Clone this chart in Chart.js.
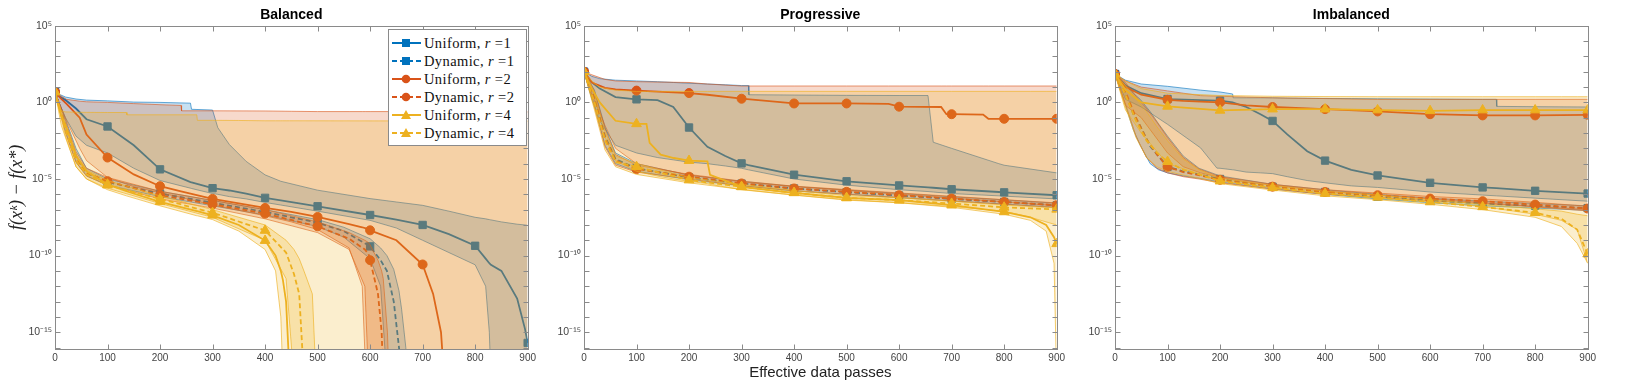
<!DOCTYPE html>
<html>
<head>
<meta charset="utf-8">
<script src="https://cdn.jsdelivr.net/npm/chart.js@4.4.1/dist/chart.umd.min.js"></script>
<style>
  body { margin: 0; background: #fff; width: 1644px; height: 386px; position: relative; overflow: hidden; }
  .panel { position: absolute; top: 0; width: 538px; height: 386px; }
  #legend {
    position: absolute; left: 388px; top: 29px; width: 134px; height: 111px;
    background: #fff; border: 1px solid #8a8a8a; padding: 4px 0 0 3px;
    font-family: 'Liberation Serif', 'Times New Roman', serif; font-size: 14.5px; letter-spacing: 0.4px; color: #111;
  }
  #legend .row { height: 18px; display: flex; align-items: center; white-space: nowrap; }
  #legend svg { margin-right: 3px; flex: none; }
</style>
</head>
<body>
<div class="panel" style="left:1px"><canvas id="balanced" width="538" height="386"></canvas></div>
<div class="panel" style="left:530px"><canvas id="progressive" width="538" height="386"></canvas></div>
<div class="panel" style="left:1061px"><canvas id="imbalanced" width="538" height="386"></canvas></div>
<div id="legend"></div>
<script>
// series meta
const seriesKinds = ['Uniform', 'Dynamic', 'Uniform', 'Dynamic', 'Uniform', 'Dynamic'];
const seriesR = [1, 1, 2, 2, 4, 4];
const seriesColors = ['#0072BD', '#0072BD', '#D95319', '#D95319', '#EDB120', '#EDB120'];
const seriesFills = ['rgba(0,114,189,0.22)', 'rgba(0,114,189,0.22)', 'rgba(217,83,25,0.22)', 'rgba(217,83,25,0.22)', 'rgba(237,177,32,0.22)', 'rgba(237,177,32,0.22)'];
const seriesEdges = ['rgba(0,114,189,0.75)', 'rgba(0,114,189,0.75)', 'rgba(217,83,25,0.75)', 'rgba(217,83,25,0.75)', 'rgba(237,177,32,0.8)', 'rgba(237,177,32,0.8)'];
const seriesDashed = [false, true, false, true, false, true];
const seriesMarkers = ['rect', 'rect', 'circle', 'circle', 'triangle', 'triangle'];

const passTicks = [0, 100, 200, 300, 400, 500, 600, 700, 800, 900];
const yTickValues = [1e-15, 1e-10, 1e-5, 1, 1e5];
const yTickLabels = ['10⁻¹⁵', '10⁻¹⁰', '10⁻⁵', '10⁰', '10⁵'];
const yDecadeTicks = [1e5, 1e4, 1e3, 1e2, 1e1, 1, 1e-1, 1e-2, 1e-3, 1e-4, 1e-5, 1e-6, 1e-7, 1e-8, 1e-9,
  1e-10, 1e-11, 1e-12, 1e-13, 1e-14, 1e-15, 1e-16];

// rows: [effective data passes, log10 median, log10 lower, log10 upper]
const balancedUniform1 = [
  [0, .68, .68, .68], [10, .35, -.2, .5], [20, .15, -1.0, .35], [40, -.4, -2.2, .22], [60, -1.1, -2.8, .15],
  [100, -1.57, -3.3, .1], [150, -2.8, -4.3, .02], [200, -4.37, -5.1, 0], [258, -5.2, -5.6, -.05],
  [260, -5.22, -5.62, -.45], [300, -5.6, -5.95, -.5], [310, -5.65, -6.0, -1.65], [332, -5.75, -6.15, -2.75],
  [364, -5.95, -6.3, -3.85], [400, -6.23, -6.53, -4.73], [430, -6.4, -6.7, -5.15], [500, -6.78, -7.1, -5.73],
  [600, -7.35, -7.7, -6.28], [650, -7.65, -8.2, -6.5], [700, -8.0, -9.0, -6.72], [750, -8.6, -9.8, -7.1],
  [800, -9.36, -10.6, -7.5], [820, -10.2, -12, -7.6], [827, -10.5, -15, -7.65], [830, -10.6, -18, -7.67],
  [850, -11.0, -18, -7.8], [880, -12.8, -18, -7.95], [895, -14.8, -18, -8.0], [900, -15.7, -18, -8.03]
];
const balancedDynamic1 = [
  [0, .68, .68, .68], [20, -1.5, -1.9, -1.1], [40, -3.5, -3.9, -3.0], [60, -4.6, -4.8, -4.3],
  [100, -5.2, -5.4, -5.0], [200, -5.95, -6.15, -5.8], [300, -6.55, -6.75, -6.4], [400, -7.15, -7.35, -7.0],
  [500, -7.85, -8.1, -7.65], [550, -8.4, -8.8, -8.15], [600, -9.4, -10.2, -8.9], [620, -10.3, -12, -9.5],
  [632, -11.0, -18, -10.0], [645, -13.0, -18, -10.9], [655, -16, -18, -12.3], [660, -18, -18, -13.5],
  [668, -18, -18, -16], [672, -18, -18, -18]
];
const balancedUniform2 = [
  [0, .68, .68, .68], [10, .3, -.2, .45], [22, -.1, -1.2, .2], [47, -1.0, -3.0, .08], [60, -2.1, -3.8, .04],
  [100, -3.6, -4.9, 0], [150, -4.7, -5.5, -.08], [200, -5.47, -5.9, -.15], [240, -5.8, -6.2, -.2],
  [241, -5.8, -6.2, -.55], [300, -6.3, -6.7, -.55], [400, -6.89, -7.4, -.56], [450, -7.15, -7.8, -.58],
  [500, -7.48, -8.3, -.6], [560, -7.95, -9.5, -.6], [585, -8.15, -12, -.6], [592, -8.22, -18, -.6],
  [600, -8.35, -18, -.6], [650, -9.0, -18, -.6], [700, -10.58, -18, -.6], [720, -12.5, -18, -.6],
  [735, -15, -18, -.6], [741, -18, -18, -.6], [900, -18, -18, -.62]
];
const balancedDynamic2 = [
  [0, .68, .68, .68], [20, -1.6, -2.0, -1.2], [40, -3.6, -3.9, -3.2], [60, -4.6, -4.8, -4.3],
  [100, -5.14, -5.4, -4.9], [200, -6.06, -6.3, -5.8], [300, -6.65, -6.9, -6.4], [400, -7.26, -7.6, -7.0],
  [500, -8.09, -8.5, -7.8], [560, -8.9, -9.6, -8.5], [590, -9.6, -12, -9.0], [597, -9.9, -18, -9.15],
  [600, -10.3, -18, -9.3], [615, -12.5, -18, -10.3], [622, -15, -18, -11.0], [625, -18, -18, -11.5],
  [633, -18, -18, -15], [636, -18, -18, -18]
];
const balancedUniform4 = [
  [0, .68, .68, .68], [12, -.9, -1.5, -.55], [20, -1.5, -2.3, -.62], [40, -3.5, -4.2, -.64],
  [60, -4.5, -5.0, -.65], [100, -5.35, -5.7, -.66], [136, -5.8, -6.1, -.66], [137, -5.8, -6.1, -.81],
  [200, -6.49, -6.75, -.81], [270, -7.1, -7.4, -.81], [271, -7.1, -7.4, -1.17], [300, -7.37, -7.65, -1.17],
  [350, -8.0, -8.4, -1.18], [400, -9.02, -9.6, -1.2], [420, -10.0, -11.0, -1.2], [430, -11.0, -14.0, -1.2],
  [434, -11.6, -18, -1.2], [440, -13.0, -18, -1.2], [447, -18, -18, -1.2], [900, -18, -18, -1.22]
];
const balancedDynamic4 = [
  [0, .68, .68, .68], [20, -1.8, -2.2, -1.4], [40, -3.8, -4.2, -3.4], [60, -4.7, -5.0, -4.4],
  [100, -5.4, -5.6, -5.1], [200, -6.3, -6.6, -6.1], [300, -7.2, -7.5, -7.0], [400, -8.36, -9.0, -8.0],
  [440, -9.8, -11.5, -9.0], [455, -11.2, -18, -9.6], [465, -12.5, -18, -10.2], [474, -18, -18, -11.0],
  [490, -18, -18, -12.5], [497, -18, -18, -18]
];

const progressiveUniform1 = [
  [0, 2.0, 2.0, 2.0], [15, 1.3, .2, 1.7], [30, .9, -1.2, 1.55], [60, .35, -2.8, 1.45], [100, .2, -3.3, 1.4],
  [140, .15, -3.6, 1.35], [170, -.3, -3.75, 1.3], [200, -1.64, -3.9, 1.25], [235, -2.9, -4.0, 1.2],
  [269, -3.5, -4.15, 1.15], [300, -3.98, -4.3, 1.1], [313, -4.1, -4.4, 1.1], [314, -4.1, -4.4, .5],
  [400, -4.72, -5.0, .48], [500, -5.15, -5.4, .46], [600, -5.42, -5.7, .45], [655, -5.55, -5.82, .45],
  [665, -5.57, -5.85, -2.6], [700, -5.67, -5.95, -3.0], [790, -5.85, -6.1, -4.0], [800, -5.87, -6.12, -4.1],
  [900, -6.06, -6.3, -4.6]
];
const progressiveDynamic1 = [
  [0, 2.0, 2.0, 2.0], [20, .3, -.2, .8], [40, -2.2, -2.8, -1.6], [60, -3.7, -4.0, -3.3], [100, -4.3, -4.5, -4.0],
  [200, -4.9, -5.05, -4.75], [300, -5.3, -5.45, -5.15], [400, -5.62, -5.78, -5.48], [500, -5.86, -6.0, -5.72],
  [600, -6.08, -6.22, -5.94], [700, -6.3, -6.44, -6.16], [800, -6.5, -6.64, -6.36], [900, -6.72, -6.86, -6.58]
];
const progressiveUniform2 = [
  [0, 2.0, 2.0, 2.0], [15, 1.3, .5, 1.8], [40, .95, -1.5, 1.5], [60, .85, -3.0, 1.4], [100, .77, -4.0, 1.35],
  [200, .61, -4.75, 1.3], [235, .5, -4.9, 1.2], [300, .24, -5.2, 1.07], [400, -.07, -5.5, 1.07],
  [500, -.07, -5.75, 1.07], [580, -.1, -5.95, 1.07], [600, -.28, -6.0, 1.07], [680, -.3, -6.2, 1.07],
  [690, -.77, -6.22, 1.07], [700, -.77, -6.25, 1.07], [760, -.8, -6.4, 1.07], [770, -1.07, -6.42, 1.07],
  [800, -1.07, -6.5, 1.07], [900, -1.07, -6.75, 1.07]
];
const progressiveDynamic2 = [
  [0, 2.0, 2.0, 2.0], [20, .2, -.3, .7], [40, -2.3, -2.9, -1.7], [60, -3.8, -4.1, -3.4], [100, -4.35, -4.55, -4.1],
  [200, -4.85, -5.0, -4.7], [300, -5.29, -5.44, -5.14], [400, -5.62, -5.77, -5.47], [500, -5.84, -5.99, -5.69],
  [600, -6.06, -6.21, -5.91], [700, -6.28, -6.43, -6.13], [800, -6.5, -6.65, -6.35], [900, -6.71, -6.86, -6.56]
];
const progressiveUniform4 = [
  [0, 2.0, 2.0, 2.0], [15, .9, .3, 1.4], [30, 0.0, -1.5, 1.0], [60, -1.2, -3.8, .8], [100, -1.4, -4.5, .72],
  [119, -1.4, -4.65, .72], [125, -2.64, -4.7, .72], [146, -3.41, -4.85, .72], [171, -3.63, -5.0, .72],
  [200, -3.8, -5.15, .72], [235, -3.85, -5.3, .72], [240, -4.73, -5.35, .72], [300, -5.51, -5.7, .72],
  [400, -5.9, -6.05, .72], [500, -6.23, -6.35, .72], [600, -6.38, -6.55, .72], [700, -6.71, -6.85, .72],
  [800, -7.15, -7.3, .72], [850, -7.5, -7.7, .72], [880, -8.0, -8.4, .72], [895, -8.8, -10.5, .72],
  [900, -9.23, -18, .72]
];
const progressiveDynamic4 = [
  [0, 2.0, 2.0, 2.0], [20, .0, -.5, .5], [40, -2.5, -3.1, -1.9], [60, -3.9, -4.2, -3.5], [100, -4.2, -4.7, -4.0],
  [200, -5.07, -5.25, -4.9], [300, -5.51, -5.68, -5.35], [400, -5.9, -6.05, -5.75], [500, -6.23, -6.38, -6.08],
  [600, -6.38, -6.55, -6.22], [700, -6.6, -6.8, -6.45], [800, -6.85, -7.1, -6.7], [850, -6.92, -7.5, -6.8],
  [900, -6.98, -8.0, -6.88]
];

const imbalancedUniform1 = [
  [0, 1.85, 1.85, 1.85], [20, 1.1, .2, 1.45], [50, .6, -.3, 1.2], [100, .22, -1.43, 1.05], [163, .15, -2.97, .8],
  [194, .12, -4.29, .7], [200, .11, -4.3, .68], [224, .0, -4.4, .55], [225, -.01, -4.4, .3], [250, -.3, -4.55, .3],
  [277, -.77, -4.6, .3], [300, -1.21, -4.65, .3], [328, -2.09, -4.85, .28], [366, -3.19, -5.1, .27],
  [400, -3.8, -5.25, .26], [450, -4.4, -5.45, .25], [500, -4.77, -5.55, .24], [600, -5.25, -5.85, .22],
  [700, -5.55, -6.05, .2], [726, -5.6, -6.1, .2], [727, -5.6, -6.1, -.26], [800, -5.77, -6.25, -.28],
  [900, -5.95, -6.45, -.3]
];
const imbalancedDynamic1 = [
  [0, 1.85, 1.85, 1.85], [20, .6, -.2, 1.2], [35, -.77, -1.8, .6], [48, -1.54, -2.8, .2], [67, -2.86, -4.0, -.6],
  [83, -3.52, -4.4, -1.4], [100, -4.2, -4.6, -2.2], [130, -4.5, -4.8, -3.5], [160, -4.7, -4.95, -4.3],
  [200, -5.0, -5.2, -4.8], [300, -5.5, -5.65, -5.35], [400, -5.85, -6.0, -5.7], [500, -6.15, -6.3, -6.0],
  [600, -6.4, -6.55, -6.25], [700, -6.6, -6.75, -6.45], [800, -6.75, -6.9, -6.6], [900, -6.9, -7.05, -6.75]
];
const imbalancedUniform2 = [
  [0, 1.85, 1.85, 1.85], [20, 1.0, -.2, 1.4], [50, .5, -1.0, 1.0], [100, .17, -3.3, .75], [130, .1, -4.2, .6],
  [163, .05, -4.6, .44], [200, 0, -4.9, .4], [250, -.2, -5.2, .35], [300, -.3, -5.4, .3], [400, -.44, -5.8, .25],
  [500, -.59, -6.05, .2], [600, -.77, -6.3, .2], [700, -.85, -6.55, .2], [800, -.85, -6.8, .2], [900, -.81, -7.0, .2]
];
const imbalancedDynamic2 = [
  [0, 1.85, 1.85, 1.85], [20, .7, -.1, 1.3], [40, -1.0, -2.2, .4], [60, -2.4, -3.6, -.4], [80, -3.4, -4.3, -1.3],
  [100, -4.2, -4.6, -2.3], [130, -4.55, -4.85, -3.6], [160, -4.75, -5.0, -4.35], [200, -5.05, -5.25, -4.85],
  [300, -5.5, -5.65, -5.35], [400, -5.85, -6.0, -5.7], [500, -6.06, -6.2, -5.92], [600, -6.28, -6.42, -6.14],
  [700, -6.45, -6.6, -6.3], [800, -6.67, -6.82, -6.52], [900, -6.93, -7.08, -6.78]
];
const imbalancedUniform4 = [
  [0, 1.85, 1.85, 1.85], [20, .8, -.5, 1.4], [50, .0, -2.0, .9], [100, -.26, -4.0, .6], [200, -.52, -5.1, .45],
  [300, -.44, -5.55, .4], [400, -.44, -5.95, .38], [500, -.5, -6.25, .37], [600, -.55, -6.5, .37],
  [700, -.5, -6.8, .37], [800, -.5, -7.3, .37], [850, -.5, -7.7, .37], [880, -.5, -8.3, .37], [900, -.5, -10.5, .37]
];
const imbalancedDynamic4 = [
  [0, 1.85, 1.85, 1.85], [20, .5, -.3, 1.1], [40, -1.2, -2.3, .2], [60, -2.5, -3.6, -.6], [80, -3.3, -4.2, -1.6],
  [100, -3.87, -4.5, -2.5], [130, -4.4, -4.75, -3.7], [160, -4.7, -4.95, -4.4], [200, -5.14, -5.3, -4.95],
  [300, -5.58, -5.72, -5.42], [400, -5.95, -6.1, -5.8], [500, -6.2, -6.35, -6.05], [600, -6.5, -6.65, -6.35],
  [700, -6.82, -7.0, -6.65], [800, -7.2, -7.5, -6.95], [850, -7.6, -8.1, -7.1], [880, -8.3, -9.2, -7.3],
  [900, -9.9, -10.5, -7.4]
];

const sansFont = "'Liberation Sans', Arial, Helvetica, sans-serif";

// band edges + shaded band + median line per series; first series drawn underneath
const buildDatasets = (seriesRows) => {
  const sets = [];
  seriesRows.forEach((rows, s) => {
    const base = (6 - s) * 30;
    const column = c => rows.map(r => ({ x: r[0], y: 10 ** r[c] }));
    sets.push({
      data: column(2), borderColor: seriesEdges[s], borderWidth: 0.8,
      pointRadius: 0, fill: false, order: base + 20
    });
    sets.push({
      data: column(3), borderColor: seriesEdges[s], borderWidth: 0.8,
      backgroundColor: seriesFills[s], pointRadius: 0, fill: '-1', order: base + 10
    });
    sets.push({
      data: column(1),
      borderColor: seriesColors[s],
      borderWidth: 1.8,
      borderDash: seriesDashed[s] ? [5, 3] : [],
      fill: false,
      pointStyle: seriesMarkers[s],
      pointBackgroundColor: seriesColors[s],
      pointBorderColor: seriesColors[s],
      pointBorderWidth: 1,
      pointRadius: ctx => (ctx.raw && ctx.raw.x % 100 === 0) ? (seriesMarkers[s] === 'circle' ? 4.5 : (seriesMarkers[s] === 'rect' ? 5.2 : 5.6)) : 0,
      order: base
    });
  });
  return sets;
};

// MATLAB-like box with inward ticks
const framePlugin = {
  id: 'frame',
  afterDatasetsDraw(chart) {
    const { ctx, chartArea: a, scales: { x, y } } = chart;
    const left = Math.round(a.left) + 0.5, right = Math.round(a.right) + 0.5;
    const top = Math.round(a.top) + 0.5, bottom = Math.round(a.bottom) + 0.5;
    ctx.save();
    ctx.strokeStyle = '#8a8a8a';
    ctx.lineWidth = 1;
    ctx.beginPath();
    passTicks.forEach(v => {
      const px = Math.round(x.getPixelForValue(v)) + 0.5;
      ctx.moveTo(px, bottom); ctx.lineTo(px, bottom - 5);
      ctx.moveTo(px, top); ctx.lineTo(px, top + 5);
    });
    yDecadeTicks.forEach(v => {
      const py = Math.round(y.getPixelForValue(v)) + 0.5;
      if (py < top - 0.5 || py > bottom + 0.5) return;
      ctx.moveTo(left, py); ctx.lineTo(left + 5, py);
      ctx.moveTo(right, py); ctx.lineTo(right - 5, py);
    });
    ctx.stroke();
    ctx.strokeRect(left, top, right - left, bottom - top);
    ctx.restore();
  }
};

const makeChart = (id, title, seriesRows, showYTitle, showXTitle) => new Chart(document.getElementById(id), {
  type: 'line',
  data: { datasets: buildDatasets(seriesRows) },
  options: {
    responsive: false,
    animation: false,
    events: [],
    layout: { padding: { left: 0, right: 10, top: 0, bottom: 0 } },
    elements: { line: { tension: 0 } },
    plugins: {
      legend: { display: false },
      tooltip: { enabled: false },
      filler: { propagate: false },
      title: {
        display: true, text: title, fullSize: false, color: '#000',
        font: { family: sansFont, size: 14, weight: 'bold' },
        padding: { top: 7, bottom: 2 }
      }
    },
    scales: {
      x: {
        type: 'linear', min: 0, max: 900,
        grid: { display: false, drawTicks: false },
        border: { display: false },
        afterBuildTicks: s => { s.ticks = passTicks.map(v => ({ value: v })); },
        ticks: { autoSkip: false, maxRotation: 0, padding: 3, color: '#444', font: { family: sansFont, size: 10 } },
        title: {
          display: showXTitle, text: 'Effective data passes', color: '#222',
          font: { family: sansFont, size: 15 }, padding: { top: 0, bottom: 4 }
        },
        afterFit: s => { s.height = 37; }
      },
      y: {
        type: 'logarithmic', min: 8e-17, max: 1e5,
        grid: { display: false, drawTicks: false },
        border: { display: false },
        afterBuildTicks: s => { s.ticks = yTickValues.map(v => ({ value: v })); },
        ticks: {
          autoSkip: false, padding: 3, color: '#444', font: { family: sansFont, size: 10.5 },
          callback: v => yTickLabels[yTickValues.indexOf(v)]
        },
        title: {
          display: showYTitle, text: 'f(xᵏ) − f(x*)', color: '#222',
          font: { family: "'Liberation Serif', 'Times New Roman', serif", size: 18, style: 'italic' },
          padding: { top: 5, bottom: 0 }
        },
        afterFit: s => { s.width = 54; }
      }
    }
  },
  plugins: [framePlugin]
});

makeChart('balanced', 'Balanced',
  [balancedUniform1, balancedDynamic1, balancedUniform2, balancedDynamic2, balancedUniform4, balancedDynamic4], true, false);
makeChart('progressive', 'Progressive',
  [progressiveUniform1, progressiveDynamic1, progressiveUniform2, progressiveDynamic2, progressiveUniform4, progressiveDynamic4], false, true);
makeChart('imbalanced', 'Imbalanced',
  [imbalancedUniform1, imbalancedDynamic1, imbalancedUniform2, imbalancedDynamic2, imbalancedUniform4, imbalancedDynamic4], false, false);

// legend (inside the Balanced panel)
const markerSvg = (kind, color) => {
  if (kind === 'rect') return `<rect x="10" y="3" width="8" height="8" fill="${color}"/>`;
  if (kind === 'circle') return `<circle cx="14" cy="7" r="4.3" fill="${color}"/>`;
  return `<polygon points="14,2 19,11 9,11" fill="${color}"/>`;
};
const legendBox = document.getElementById('legend');
seriesKinds.forEach((kind, i) => {
  const row = document.createElement('div');
  row.className = 'row';
  const dash = seriesDashed[i] ? 'stroke-dasharray="5,3"' : '';
  row.innerHTML = `<svg width="29" height="14"><line x1="0" y1="7" x2="29" y2="7" stroke="${seriesColors[i]}" stroke-width="2" ${dash}/>` +
    markerSvg(seriesMarkers[i], seriesColors[i]) + `</svg><span>${kind}, <i>r</i> =${seriesR[i]}</span>`;
  legendBox.appendChild(row);
});
</script>
</body>
</html>
